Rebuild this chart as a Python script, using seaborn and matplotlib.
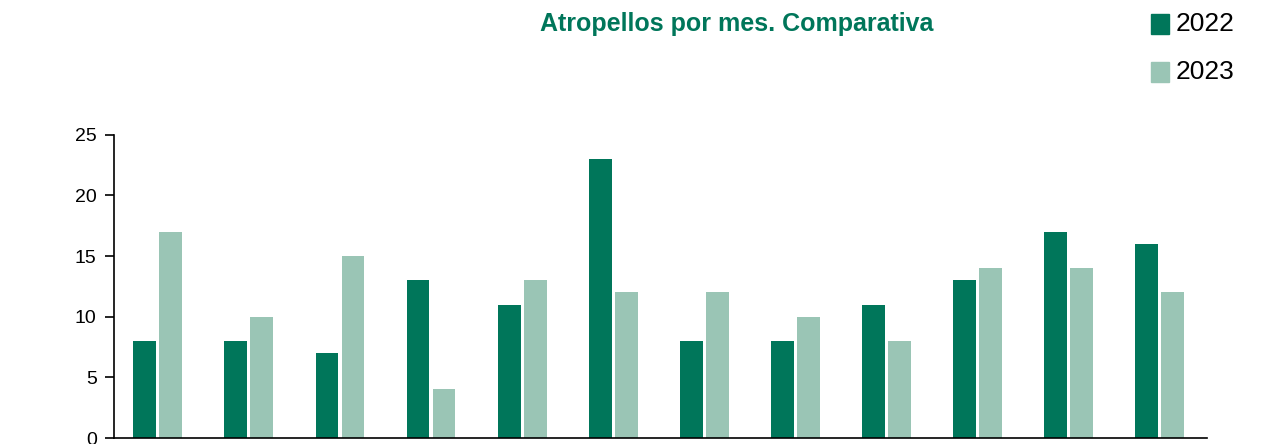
import pandas as pd
import seaborn as sns
import matplotlib.pyplot as plt

# monthly pedestrian accidents, two years
months = ['Ene', 'Feb', 'Mar', 'Abr', 'May', 'Jun', 'Jul', 'Ago', 'Sep', 'Oct', 'Nov', 'Dic']
years = ['2022', '2023']
values_2022 = [8, 8, 7, 13, 11, 23, 8, 8, 11, 13, 17, 16]
values_2023 = [17, 10, 15, 4, 13, 12, 12, 10, 8, 14, 14, 12]
colors = ['#00765A', '#9AC5B5']

df = pd.DataFrame({
    'mes': months * 2,
    'anio': [years[0]] * 12 + [years[1]] * 12,
    'valor': values_2022 + values_2023,
})

sns.set_style('white')
plt.rcParams['font.family'] = ['Liberation Sans', 'DejaVu Sans']

fig = plt.figure(figsize=(12.77, 4.44), dpi=100)
ax = fig.add_axes([0.0893, 0.0135, 0.856, 0.683])

sns.barplot(data=df, x='mes', y='valor', hue='anio', palette=colors,
            width=0.57, gap=0.12, saturation=1, linewidth=0, ax=ax, legend=False)

ax.set_ylim(0, 25)
ax.set_xlim(-0.48, 11.52)
ax.set_yticks([0, 5, 10, 15, 20, 25])
ax.tick_params(axis='y', labelsize=14, length=6.5, width=1.2, direction='out',
               left=True, pad=6, colors='black')
ax.set_xticks([])
ax.set_xlabel('')
ax.set_ylabel('')
sns.despine(ax=ax)
for s in ['left', 'bottom']:
    ax.spines[s].set_color('black')
    ax.spines[s].set_linewidth(1.2)

fig.text(0.577, 0.945, 'Atropellos por mes. Comparativa', ha='center', va='center',
         fontsize=18, fontweight='bold', color='#00765A')

# legend
for i, (yr, c) in enumerate(zip(years, colors)):
    y = 0.945 - i * 0.108
    fig.patches.append(plt.Rectangle((0.9013, y - 0.0225), 0.0141, 0.045, color=c,
                                     transform=fig.transFigure, figure=fig))
    fig.text(0.9205, y, yr, ha='left', va='center', fontsize=19, color='black')

fig.savefig('out.png', dpi=100)
